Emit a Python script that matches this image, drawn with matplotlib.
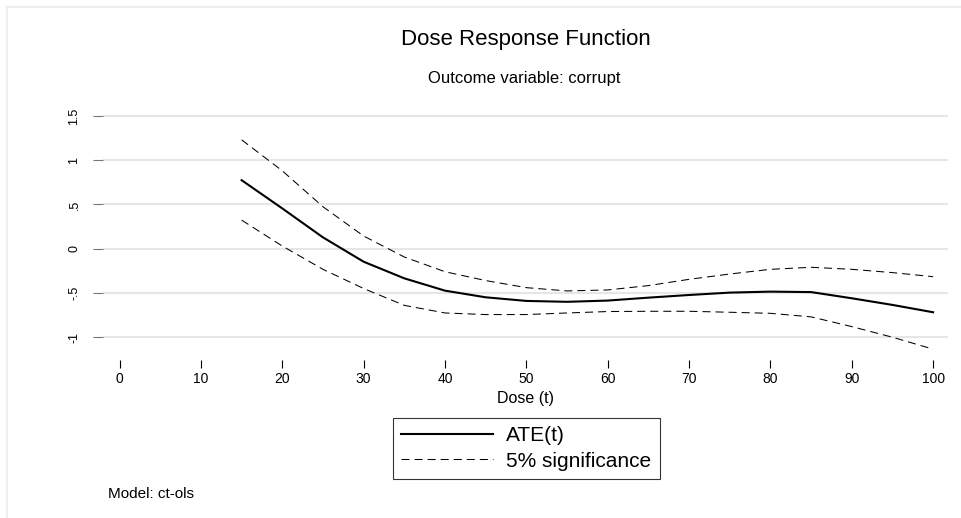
import matplotlib
matplotlib.use("Agg")
import matplotlib.pyplot as plt
from matplotlib.lines import Line2D

plt.rcParams['font.family'] = ['Liberation Sans', 'DejaVu Sans']
plt.rcParams['lines.scale_dashes'] = False

# data
dose = [15, 20, 25, 30, 35, 40, 45, 50, 55, 60, 65, 70, 75, 80, 85, 90, 95, 100]
ate = [0.774, 0.455, 0.128, -0.147, -0.335, -0.474, -0.549, -0.59, -0.60, -0.586,
       -0.553, -0.523, -0.496, -0.485, -0.49, -0.56, -0.635, -0.718]
upper = [1.23, 0.88, 0.474, 0.143, -0.094, -0.26, -0.36, -0.44, -0.477, -0.466,
         -0.417, -0.346, -0.286, -0.233, -0.21, -0.233, -0.27, -0.316]
lower = [0.323, 0.03, -0.233, -0.45, -0.64, -0.726, -0.744, -0.744, -0.726, -0.71,
         -0.707, -0.707, -0.718, -0.73, -0.77, -0.88, -1.0, -1.135]

xticks = [0, 10, 20, 30, 40, 50, 60, 70, 80, 90, 100]
yticks = [-1, -0.5, 0, 0.5, 1, 1.5]
ylabels = ["-1", "-.5", "0", ".5", "1", "1.5"]

W, H = 962, 518
fig = plt.figure(figsize=(W / 100, H / 100), dpi=100)

# axes box in pixels: left 103, right 948, top 110, bottom 352
ax = fig.add_axes([103 / W, 1 - 352 / H, 845 / W, 242 / H])

dash = (0, (5.8, 3.6))
ax.plot(dose, ate, color='black', lw=1.5, label='ATE(t)')
ax.plot(dose, upper, color='black', lw=0.75, linestyle=dash, label='5% significance')
ax.plot(dose, lower, color='black', lw=0.75, linestyle=dash)

ax.set_xlim(-2.04, 101.83)
ax.set_ylim(-1.167, 1.567)

for s in ax.spines.values():
    s.set_visible(False)
ax.spines['bottom'].set_position(('outward', 6))

ax.set_xticks(xticks)
ax.set_xticklabels([str(t) for t in xticks])
ax.tick_params(axis='x', direction='out', length=5.5, width=0.8, color='black',
               labelsize=10, pad=3)

ax.set_yticks(yticks)
ax.set_yticklabels(ylabels, rotation=90, va='center')
ax.tick_params(axis='y', direction='out', length=7.2, width=0.8, color='#777777',
               labelsize=9, pad=9)

ax.yaxis.grid(True, color='#e6e6e6', lw=1.5)
ax.xaxis.grid(False)
ax.set_axisbelow(True)

ax.set_xlabel('Dose (t)', fontsize=11.5, va='center')
ax.xaxis.set_label_coords(0.5, (352 - 398) / 242)

leg = ax.legend(loc='center', bbox_to_anchor=(0.5468, 1 - 448.5 / H),
                bbox_transform=fig.transFigure, fontsize=15, frameon=True,
                fancybox=False, edgecolor='black', handlelength=4.4,
                handletextpad=0.65, borderpad=0.4, labelspacing=0.3,
                borderaxespad=0)
leg.get_frame().set_linewidth(0.8)

fig.text(526 / W, 1 - 39 / H, 'Dose Response Function', fontsize=16,
         ha='center', va='center')
fig.text(524 / W, 1 - 78 / H, 'Outcome variable: corrupt', fontsize=12,
         ha='center', va='center')
fig.text(108 / W, 1 - 494 / H, 'Model: ct-ols', fontsize=11,
         ha='left', va='center')

# faint outer frame (top and left edges visible)
fig.add_artist(Line2D([6.5 / W, 1], [1 - 6.5 / H] * 2, color='#eeeeee', lw=1.5,
                      transform=fig.transFigure))
fig.add_artist(Line2D([6.5 / W] * 2, [0, 1 - 6.5 / H], color='#eeeeee', lw=1.5,
                      transform=fig.transFigure))

fig.savefig('out.png', dpi=100)
